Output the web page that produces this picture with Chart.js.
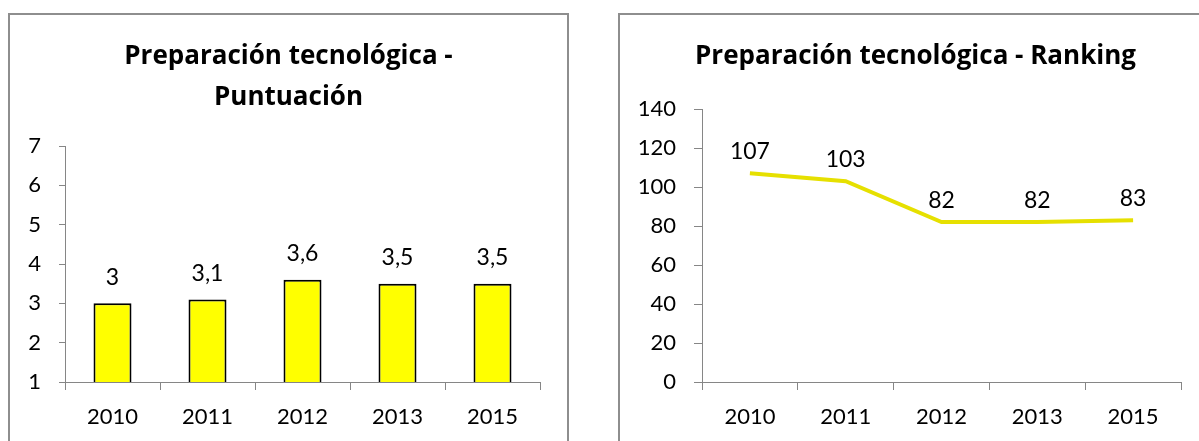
<!DOCTYPE html>
<html>
<head>
<meta charset="utf-8">
<script src="https://cdn.jsdelivr.net/npm/chart.js@4.4.1/dist/chart.umd.min.js"></script>
<style>
  html, body { margin: 0; padding: 0; background: #fff; overflow: hidden; width: 1199px; height: 441px; }
  .box { position: absolute; border: 2px solid #8e8e8e; background: #fff; }
  canvas { position: absolute; display: block; }
</style>
</head>
<body>
<div class="box" style="left:8px; top:13px; width:557px; height:500px;"></div>
<div class="box" style="left:618px; top:13px; width:600px; height:500px;"></div>
<canvas id="c1" width="557" height="426" style="left:10px; top:15px; width:557px; height:426px;"></canvas>
<canvas id="c2" width="591" height="426" style="left:620px; top:15px; width:591px; height:426px;"></canvas>
<script>
const categories = ['2010', '2011', '2012', '2013', '2015'];
const scoreValues = [3, 3.1, 3.6, 3.5, 3.5];
const rankingValues = [107, 103, 82, 82, 83];
const scoreTitle = ['Preparación tecnológica -', 'Puntuación'];
const rankingTitle = 'Preparación tecnológica - Ranking';

const FONT = 'Lato, "Open Sans", sans-serif';
const TITLE_FONT = '"Open Sans", Lato, sans-serif';
const AXIS = '#868686';

const valueLabels = {
  id: 'valueLabels',
  afterDatasetsDraw(chart, args, opts) {
    const ctx = chart.ctx;
    ctx.save();
    ctx.font = '23px ' + FONT;
    ctx.fillStyle = '#000';
    ctx.textAlign = 'center';
    ctx.textBaseline = 'middle';
    chart.data.datasets.forEach((ds, di) => {
      const meta = chart.getDatasetMeta(di);
      meta.data.forEach((el, i) => {
        const txt = String(ds.data[i]).replace('.', ',');
        ctx.fillText(txt, el.x, el.y - opts.offset);
      });
    });
    ctx.restore();
  }
};

function yScale(min, max, step, width, tickLen) {
  return {
    min: min, max: max,
    afterFit(s) { s.width = width; },
    border: { display: true, color: AXIS, width: 1 },
    grid: { drawOnChartArea: false, drawTicks: true, tickLength: tickLen, color: AXIS },
    ticks: { stepSize: step, color: '#000', padding: 18, font: { family: FONT, size: 22 } }
  };
}
function spacerScale(width) {
  return {
    position: 'right',
    afterFit(s) { s.width = width; },
    border: { display: false },
    grid: { display: false },
    ticks: { display: false }
  };
}
function xScale() {
  return {
    offset: true,
    afterFit(s) { s.height = 59; },
    border: { display: true, color: AXIS, width: 1 },
    grid: { offset: true, drawOnChartArea: false, drawTicks: true, tickLength: 8, color: AXIS },
    ticks: { color: '#000', padding: 14, font: { family: FONT, size: 22 }, maxRotation: 0 }
  };
}

new Chart(document.getElementById('c1'), {
  type: 'bar',
  data: {
    labels: categories,
    datasets: [{
      data: scoreValues,
      backgroundColor: '#FFFF00',
      borderColor: '#000000',
      borderWidth: 2,
      categoryPercentage: 1,
      barPercentage: 0.4
    }]
  },
  options: {
    responsive: false,
    animation: false,
    layout: { padding: 0 },
    plugins: {
      legend: { display: false },
      tooltip: { enabled: false },
      title: {
        display: true, text: scoreTitle, color: '#000',
        font: { family: TITLE_FONT, size: 26, weight: 'bold', lineHeight: '41px' },
        padding: { top: 21.5, bottom: 27.5 }
      },
      valueLabels: { offset: 26 }
    },
    scales: { x: xScale(), y: yScale(1, 7, 1, 55, 6), spacer: spacerScale(27) }
  },
  plugins: [valueLabels]
});

new Chart(document.getElementById('c2'), {
  type: 'line',
  data: {
    labels: categories,
    datasets: [{
      data: rankingValues,
      borderColor: '#E6E000',
      borderWidth: 4,
      pointRadius: 0,
      tension: 0,
      fill: false
    }]
  },
  options: {
    responsive: false,
    animation: false,
    layout: { padding: 0 },
    plugins: {
      legend: { display: false },
      tooltip: { enabled: false },
      title: {
        display: true, text: rankingTitle, color: '#000',
        font: { family: TITLE_FONT, size: 26, weight: 'bold', lineHeight: '41px' },
        padding: { top: 21.5, bottom: 31.5 }
      },
      valueLabels: { offset: 22 }
    },
    scales: { x: xScale(), y: yScale(0, 140, 20, 82, 8), spacer: spacerScale(30) }
  },
  plugins: [valueLabels]
});
</script>
</body>
</html>
